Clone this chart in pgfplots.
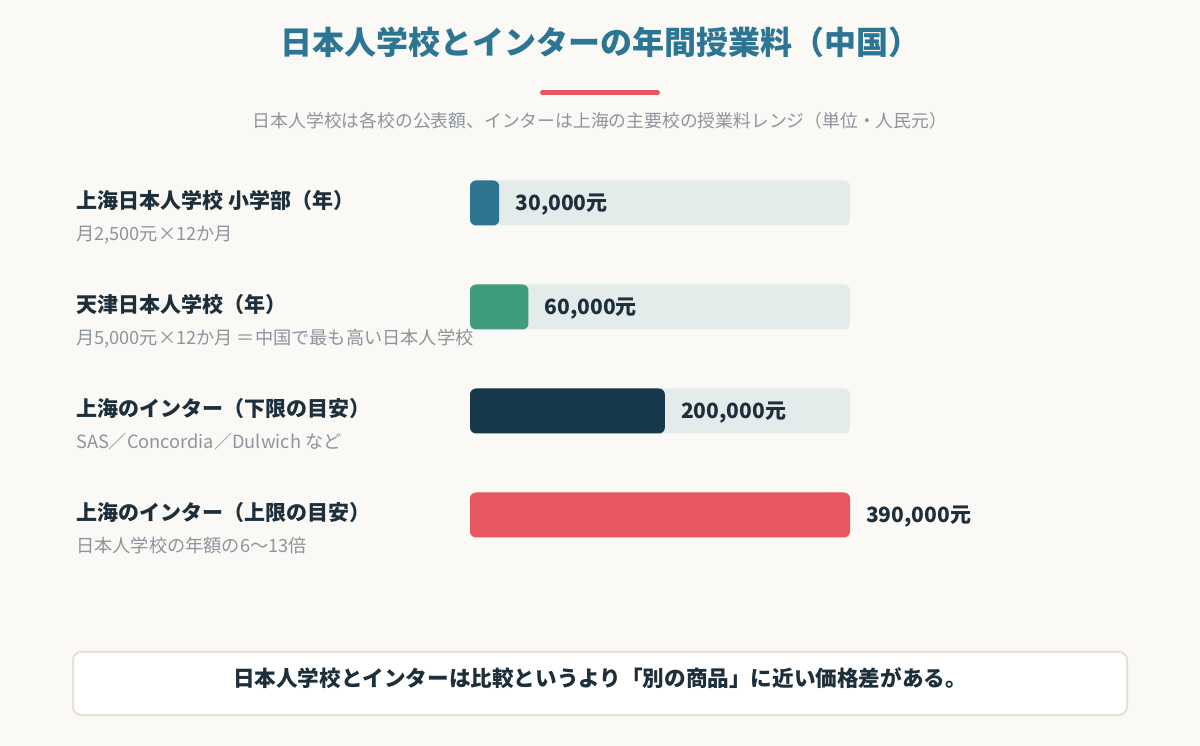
\documentclass[border=0pt]{standalone}
\usepackage{fontspec}
\setmainfont{Noto Sans CJK JP}
\usepackage{pgfplots}
\pgfplotsset{compat=1.18}
\definecolor{bg}{HTML}{FAF9F6}
\definecolor{titlec}{HTML}{2C7693}
\definecolor{redc}{HTML}{E85761}
\definecolor{subc}{HTML}{8D949C}
\definecolor{labc}{HTML}{1D2F3B}
\definecolor{track}{HTML}{E4EBEB}
\definecolor{c1}{HTML}{2E7592}
\definecolor{c2}{HTML}{3F9C7C}
\definecolor{c3}{HTML}{15394B}
\definecolor{c4}{HTML}{E85660}
\definecolor{boxb}{HTML}{E5E0D8}
\begin{document}
\begin{tikzpicture}[x=1pt,y=1pt]
\fill[bg] (0,0) rectangle (1200,746);
% title
\node[anchor=base, text=titlec, font=\fontsize{32}{36}\selectfont\bfseries, inner sep=0pt] at (600,691) {日本人学校とインターの年間授業料（中国）};
\draw[redc, line width=5pt, line cap=round] (542.5,653.5) -- (657.5,653.5);
\node[anchor=base, text=subc, font=\fontsize{17.8}{20}\selectfont, inner sep=0pt] at (600,618.5) {日本人学校は各校の公表額、インターは上海の主要校の授業料レンジ（単位・人民元）};
\begin{axis}[
  at={(470pt,179pt)}, anchor=south west,
  scale only axis, width=380pt, height=416pt,
  xmin=0, xmax=390000, ymin=-0.5, ymax=3.5, y dir=reverse,
  axis line style={draw=none}, xtick=\empty, ytick=\empty,
  xbar, bar width=45pt, clip=false,
  every node near coord/.append style={anchor=west, inner sep=0pt, xshift=16pt, yshift=-2pt, text=labc, font=\fontsize{21}{24}\selectfont\bfseries},
]
\addplot[fill=track, draw=none, rounded corners=6pt, bar shift=0pt] coordinates {(390000,0) (390000,1) (390000,2) (390000,3)};
\addplot[fill=c1, draw=none, rounded corners=6pt, bar shift=0pt, nodes near coords={30,000元}] coordinates {(30000,0)};
\addplot[fill=c2, draw=none, rounded corners=6pt, bar shift=0pt, nodes near coords={60,000元}] coordinates {(60000,1)};
\addplot[fill=c3, draw=none, rounded corners=6pt, bar shift=0pt, nodes near coords={200,000元}] coordinates {(200000,2)};
\addplot[fill=c4, draw=none, rounded corners=6pt, bar shift=0pt, nodes near coords={390,000元}] coordinates {(390000,3)};
\end{axis}
% category labels
\foreach \yy/\main/\sub in {
  0/{上海日本人学校 小学部（年）}/{月2,500元×12か月},
  1/{天津日本人学校（年）}/{月5,000元×12か月 ＝中国で最も高い日本人学校},
  2/{上海のインター（下限の目安）}/{SAS／Concordia／Dulwich など},
  3/{上海のインター（上限の目安）}/{日本人学校の年額の6〜13倍}} {
  \node[anchor=base west, inner sep=0pt, text=labc, font=\fontsize{21}{24}\selectfont\bfseries] at (76,537-104*\yy) {\main};
  \node[anchor=base west, inner sep=0pt, text=subc, font=\fontsize{18.2}{20}\selectfont] at (76,505-104*\yy) {\sub};
}
% bottom box
\draw[boxb, line width=2pt, fill=white, rounded corners=8pt] (73,31) rectangle (1127,94);
\node[anchor=base, inner sep=0pt, text=labc, font=\fontsize{21.6}{24}\selectfont\bfseries] at (600,59) {日本人学校とインターは比較というより「別の商品」に近い価格差がある。};
\end{tikzpicture}
\end{document}
